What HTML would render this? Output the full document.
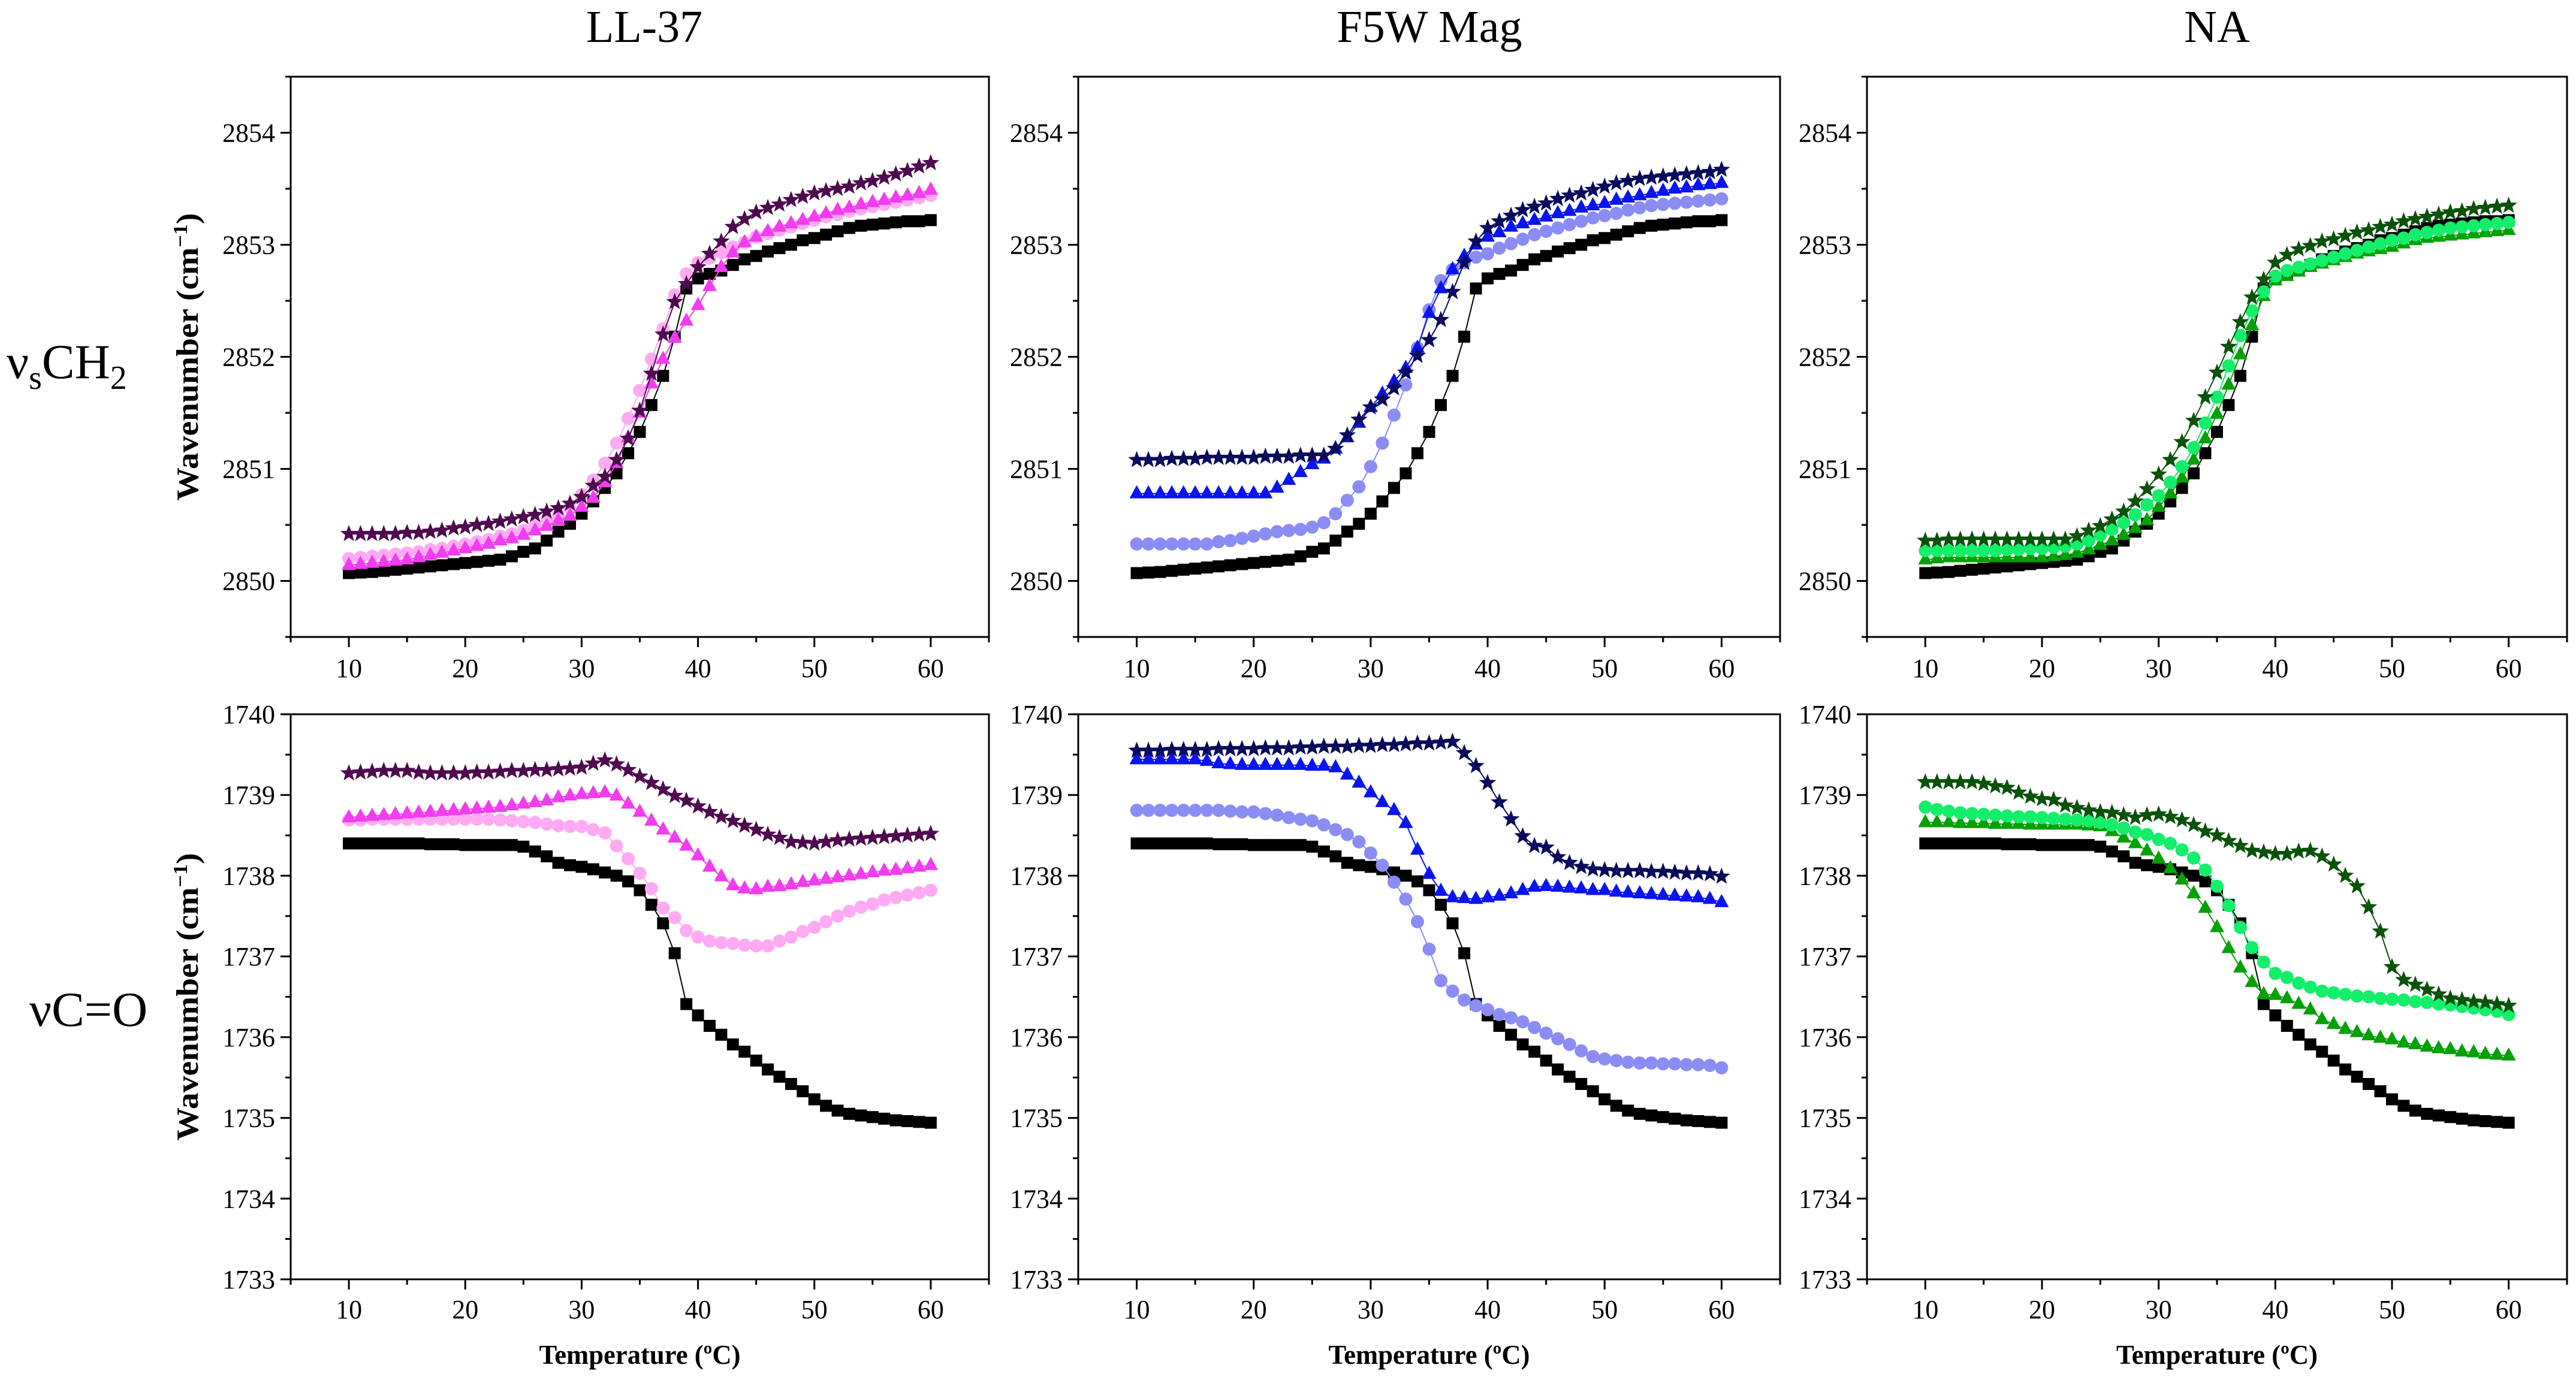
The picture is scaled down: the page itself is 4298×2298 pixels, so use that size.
<!DOCTYPE html>
<html><head><meta charset="utf-8"><style>
html,body{margin:0;padding:0;background:#fff}
svg{display:block}
text{font-family:"Liberation Serif",serif;fill:#000}
</style></head><body>
<svg id="fig" width="4298" height="2298" viewBox="0 0 4298 2298" xmlns="http://www.w3.org/2000/svg">
<rect width="4298" height="2298" fill="#fff"/>
<text x="1075" y="70" font-size="76" text-anchor="middle">LL-37</text>
<text x="2385" y="70" font-size="76" text-anchor="middle">F5W Mag</text>
<text x="3699" y="70" font-size="76" text-anchor="middle">NA</text>
<text x="11" y="631" font-size="82">ν<tspan font-size="56" dy="18">s</tspan><tspan dy="-18">CH</tspan><tspan font-size="56" dy="18">2</tspan></text>
<text x="49" y="1712" font-size="82">νC=O</text>
<g id="plots"></g>
</svg>
<script>
// x values: temperature 10..60 step 1
const temps = Array.from({length:51},(_,i)=>10+i);
const xTicks = [10,20,30,40,50,60];
const yTicksCH2 = [2850,2851,2852,2853,2854];
const yTicksCO = [1733,1734,1735,1736,1737,1738,1739,1740];
// top row: wavenumber - 2850
const ch2Black = [.07,.075,.08,.09,.10,.11,.12,.13,.14,.15, .16,.17,.18,.19,.22,.26,.29,.36,.44,.51, .60,.71,.83,.96,1.14,1.33,1.57,1.83,2.18,2.61, 2.70,2.74,2.77,2.82,2.87,2.90,2.94,2.97,3.00,3.04, 3.06,3.09,3.12,3.15,3.17,3.18,3.19,3.20,3.21,3.21, 3.22];
const ch2LLStar = [.42,.42,.42,.42,.42,.43,.43,.44,.45,.47, .48,.50,.51,.53,.55,.57,.59,.62,.65,.69, .75,.85,.93,1.08,1.27,1.52,1.85,2.20,2.49,2.65, 2.80,2.92,3.03,3.16,3.23,3.29,3.33,3.36,3.40,3.43, 3.46,3.48,3.50,3.52,3.55,3.57,3.60,3.63,3.66,3.70, 3.73];
const ch2LLTri = [.14,.15,.16,.17,.18,.19,.21,.23,.25,.27, .29,.31,.33,.36,.38,.41,.45,.49,.54,.58, .66,.74,.88,1.05,1.28,1.50,1.76,1.98,2.17,2.32, 2.46,2.63,2.80,2.93,3.02,3.07,3.12,3.16,3.19,3.22, 3.25,3.28,3.31,3.33,3.36,3.38,3.40,3.42,3.44,3.46, 3.49];
const ch2LLCirc = [.20,.21,.22,.23,.24,.25,.26,.28,.29,.31, .33,.35,.37,.40,.42,.45,.49,.53,.58,.65, .77,.90,1.05,1.23,1.45,1.70,1.98,2.25,2.55,2.74, 2.84,2.88,2.93,2.98,3.02,3.07,3.10,3.13,3.16,3.19, 3.22,3.25,3.27,3.30,3.32,3.34,3.36,3.38,3.40,3.42, 3.44];
const ch2F5Star = [1.08,1.08,1.08,1.09,1.09,1.09,1.10,1.10,1.10,1.10, 1.10,1.11,1.11,1.11,1.12,1.12,1.12,1.18,1.30,1.44, 1.55,1.62,1.72,1.86,2.01,2.15,2.33,2.58,2.84,3.03, 3.15,3.21,3.26,3.31,3.34,3.37,3.41,3.44,3.46,3.49, 3.52,3.55,3.57,3.59,3.60,3.61,3.62,3.63,3.64,3.65, 3.67];
const ch2F5Tri = [.78,.78,.78,.78,.78,.78,.78,.78,.78,.78, .78,.78,.83,.90,.97,1.04,1.09,1.18,1.28,1.41, 1.55,1.67,1.78,1.90,2.08,2.39,2.61,2.78,2.90,3.00, 3.07,3.11,3.16,3.19,3.22,3.25,3.28,3.30,3.33,3.35, 3.37,3.40,3.42,3.44,3.46,3.48,3.50,3.51,3.53,3.54, 3.55];
const ch2F5Circ = [.33,.33,.33,.33,.33,.33,.33,.35,.36,.38, .40,.42,.44,.45,.46,.48,.52,.60,.72,.84, 1.02,1.23,1.48,1.75,2.08,2.42,2.68,2.78,2.84,2.89, 2.92,2.97,3.01,3.05,3.09,3.12,3.15,3.18,3.21,3.24, 3.26,3.28,3.31,3.33,3.35,3.36,3.37,3.38,3.39,3.40, 3.41];
const ch2NAStar = [.36,.36,.37,.37,.37,.37,.37,.37,.37,.37, .37,.37,.37,.40,.45,.49,.55,.62,.71,.82, .95,1.08,1.24,1.43,1.64,1.86,2.09,2.31,2.53,2.69, 2.84,2.91,2.96,2.99,3.03,3.05,3.08,3.11,3.13,3.16, 3.18,3.21,3.23,3.25,3.27,3.29,3.30,3.32,3.33,3.34, 3.35];
const ch2NACirc = [.27,.27,.27,.27,.27,.27,.27,.28,.28,.29, .29,.30,.31,.33,.36,.41,.46,.52,.59,.68, .76,.88,1.02,1.19,1.41,1.64,1.92,2.19,2.41,2.58, 2.72,2.77,2.80,2.83,2.86,2.89,2.92,2.95,2.98,3.01, 3.04,3.06,3.09,3.11,3.13,3.15,3.16,3.17,3.18,3.19, 3.20];
const ch2NATri = [.19,.20,.21,.21,.21,.21,.21,.21,.21,.21, .21,.22,.23,.25,.28,.32,.36,.41,.47,.54, .66,.78,.92,1.08,1.27,1.49,1.75,2.02,2.28,2.54, 2.68,2.72,2.76,2.80,2.83,2.86,2.89,2.92,2.94,2.96, 2.98,3.01,3.04,3.06,3.07,3.08,3.09,3.10,3.11,3.12, 3.13];
// bottom row: wavenumber - 1730
const coBlack = [8.40,8.40,8.40,8.40,8.40,8.40,8.40,8.39,8.39,8.39, 8.38,8.38,8.38,8.38,8.38,8.36,8.30,8.24,8.16,8.13, 8.11,8.08,8.04,8.00,7.93,7.82,7.64,7.41,7.04,6.41, 6.27,6.14,6.03,5.91,5.82,5.71,5.60,5.51,5.42,5.33, 5.23,5.15,5.09,5.05,5.03,5.01,4.99,4.97,4.96,4.95, 4.94];
const coLLStar = [9.27,9.28,9.29,9.30,9.30,9.30,9.28,9.27,9.27,9.27, 9.27,9.28,9.28,9.29,9.30,9.30,9.31,9.31,9.32,9.33, 9.34,9.39,9.43,9.38,9.31,9.23,9.15,9.07,8.99,8.93, 8.86,8.79,8.73,8.68,8.62,8.57,8.51,8.47,8.42,8.41, 8.40,8.42,8.44,8.45,8.46,8.47,8.48,8.49,8.50,8.51, 8.52];
const coLLTri = [8.72,8.73,8.74,8.75,8.76,8.77,8.78,8.79,8.80,8.81, 8.82,8.83,8.84,8.85,8.87,8.89,8.91,8.93,8.97,8.99, 9.01,9.02,9.03,8.99,8.89,8.79,8.68,8.57,8.47,8.37, 8.25,8.11,7.99,7.88,7.84,7.83,7.86,7.87,7.89,7.92, 7.94,7.96,7.98,8.00,8.02,8.04,8.06,8.07,8.09,8.11, 8.13];
const coLLCirc = [8.69,8.69,8.70,8.70,8.70,8.70,8.70,8.70,8.70,8.70, 8.70,8.70,8.70,8.69,8.68,8.67,8.66,8.64,8.62,8.61, 8.61,8.57,8.53,8.37,8.21,8.03,7.84,7.60,7.48,7.32, 7.24,7.19,7.17,7.16,7.14,7.13,7.13,7.19,7.24,7.31, 7.36,7.43,7.50,7.56,7.61,7.65,7.70,7.73,7.76,7.79, 7.82];
const coF5Star = [9.55,9.55,9.55,9.56,9.56,9.56,9.56,9.57,9.57,9.57, 9.57,9.58,9.58,9.58,9.59,9.59,9.60,9.60,9.60,9.61, 9.61,9.62,9.62,9.63,9.64,9.64,9.65,9.66,9.52,9.36, 9.15,8.91,8.70,8.49,8.37,8.35,8.23,8.16,8.11,8.08, 8.07,8.06,8.06,8.06,8.05,8.05,8.04,8.03,8.03,8.02, 7.99];
const coF5Tri = [9.44,9.44,9.44,9.44,9.44,9.44,9.42,9.39,9.38,9.37, 9.37,9.37,9.37,9.37,9.37,9.36,9.36,9.34,9.25,9.15, 9.03,8.91,8.81,8.65,8.32,8.02,7.81,7.73,7.72,7.71, 7.73,7.75,7.78,7.82,7.86,7.87,7.86,7.85,7.84,7.82, 7.82,7.80,7.79,7.78,7.77,7.76,7.75,7.74,7.73,7.71, 7.67];
const coF5Circ = [8.81,8.81,8.81,8.81,8.81,8.81,8.81,8.81,8.80,8.79, 8.79,8.77,8.75,8.72,8.70,8.68,8.63,8.57,8.51,8.42, 8.28,8.13,7.92,7.71,7.43,7.09,6.70,6.57,6.46,6.39, 6.34,6.28,6.24,6.19,6.12,6.05,5.98,5.91,5.83,5.76, 5.73,5.71,5.69,5.68,5.68,5.67,5.67,5.66,5.66,5.65, 5.62];
const coNAStar = [9.16,9.16,9.16,9.16,9.16,9.14,9.11,9.09,9.03,8.98, 8.95,8.94,8.87,8.84,8.81,8.79,8.78,8.75,8.72,8.75, 8.76,8.73,8.69,8.63,8.55,8.50,8.43,8.37,8.31,8.29, 8.27,8.27,8.30,8.31,8.24,8.14,8.00,7.87,7.61,7.31, 6.87,6.71,6.65,6.59,6.53,6.48,6.46,6.44,6.43,6.41, 6.39];
const coNACirc = [8.85,8.82,8.80,8.78,8.77,8.76,8.75,8.74,8.73,8.73, 8.72,8.71,8.70,8.69,8.68,8.66,8.63,8.59,8.54,8.51, 8.45,8.40,8.32,8.22,8.07,7.87,7.63,7.36,7.11,6.93, 6.79,6.74,6.67,6.62,6.57,6.55,6.53,6.51,6.50,6.48, 6.47,6.46,6.44,6.43,6.41,6.40,6.38,6.36,6.34,6.32, 6.28];
const coNATri = [8.66,8.66,8.66,8.65,8.65,8.65,8.64,8.64,8.64,8.63, 8.63,8.63,8.63,8.63,8.62,8.61,8.55,8.47,8.40,8.31, 8.21,8.09,7.95,7.78,7.60,7.36,7.10,6.86,6.68,6.53, 6.52,6.48,6.41,6.34,6.22,6.16,6.10,6.06,6.02,5.99, 5.97,5.93,5.91,5.88,5.86,5.85,5.82,5.81,5.79,5.78, 5.77];
const ch2Base = 2850;
const coBase = 1730;

const NS='http://www.w3.org/2000/svg';
const root=document.getElementById('plots');
function mk(tag,attrs,parent){const e=document.createElementNS(NS,tag);for(const k in attrs)e.setAttribute(k,attrs[k]);(parent||root).appendChild(e);return e;}

const cols=[{x0:485,x1:1650,key:'ll37',cx:1067},{x0:1799,x1:2970,key:'f5w',cx:2385},{x0:3115,x1:4283,key:'na',cx:3699}];
const rows=[{y0:128,y1:1063,lo:2849.5,hi:2854.5,ticks:yTicksCH2,base:ch2Base,key:'ch2',labelY:1130},
            {y0:1192,y1:2135,lo:1733,hi:1740,ticks:yTicksCO,base:coBase,key:'co',labelY:2200}];
const series={
 ch2:[[ [ch2Black,'sq','#000'],[ch2LLCirc,'ci','#ffaaf2'],[ch2LLTri,'tr','#f23cf0'],[ch2LLStar,'st','#4f0a4f'] ],
      [ [ch2Black,'sq','#000'],[ch2F5Circ,'ci','#8c8cf5'],[ch2F5Tri,'tr','#0a14f0'],[ch2F5Star,'st','#0a0a5c'] ],
      [ [ch2Black,'sq','#000'],[ch2NATri,'tr','#05a005'],[ch2NACirc,'ci','#14ee6a'],[ch2NAStar,'st','#0a520a'] ]],
 co:[[ [coBlack,'sq','#000'],[coLLCirc,'ci','#ffaaf2'],[coLLTri,'tr','#f23cf0'],[coLLStar,'st','#4f0a4f'] ],
     [ [coBlack,'sq','#000'],[coF5Circ,'ci','#8c8cf5'],[coF5Tri,'tr','#0a14f0'],[coF5Star,'st','#0a0a5c'] ],
     [ [coBlack,'sq','#000'],[coNATri,'tr','#05a005'],[coNACirc,'ci','#14ee6a'],[coNAStar,'st','#0a520a'] ]]
};
function starPts(cx,cy,R){const r=R*0.42;let p=[];for(let i=0;i<10;i++){const a=-Math.PI/2+i*Math.PI/5;const rr=i%2?r:R;p.push((cx+rr*Math.cos(a)).toFixed(1)+','+(cy+rr*Math.sin(a)).toFixed(1));}return p.join(' ');}

rows.forEach((R,ri)=>{
 cols.forEach((C,ci)=>{
  const g=mk('g',{});
  
  
  const X=v=>C.x0+(v-5)/60*(C.x1-C.x0);
  const Y=v=>R.y1-(v-R.lo)/(R.hi-R.lo)*(R.y1-R.y0);
  // ticks
  const tg=mk('g',{stroke:'#000','stroke-width':3},g);
  
  
  for(let v=R.lo;v<=R.hi+1e-6;v+=0.5){const y=Y(v);const major=Math.abs(v-Math.round(v))<1e-6 && R.ticks.includes(Math.round(v));mk('line',{x1:C.x0,x2:C.x0-(major?17:9),y1:y,y2:y},tg);}
  for(let v=5;v<=65;v+=5){const x=X(v);const major=xTicks.includes(v);mk('line',{x1:x,x2:x,y1:R.y1,y2:R.y1+(major?17:9)},tg);}
  R.ticks.forEach(t=>{const tx=mk('text',{x:C.x0-26,y:Y(t)+15,'font-size':44,'text-anchor':'end'},g);tx.textContent=t;
   
   });
  xTicks.forEach(t=>{const tx=mk('text',{x:X(t),y:R.labelY,'font-size':44,'text-anchor':'middle'},g);tx.textContent=t;
   
   });
  // series
  series[R.key][ci].forEach((s,si)=>{
   const [vals,shape,col]=s;
   const sg=mk('g',{fill:col},g);
   
   
   const pts=vals.map((v,i)=>X(temps[i]).toFixed(1)+','+Y(R.base+v).toFixed(1)).join(' ');
   mk('polyline',{points:pts,fill:'none',stroke:col,'stroke-width':2},sg);
   vals.forEach((v,i)=>{const x=X(temps[i]),y=Y(R.base+v);let m;
    if(shape==='sq')m=mk('rect',{x:x-10,y:y-10,width:20,height:20},sg);
    else if(shape==='ci')m=mk('circle',{cx:x,cy:y,r:11},sg);
    else if(shape==='tr')m=mk('polygon',{points:`${x},${y-14} ${x+12},${y+8} ${x-12},${y+8}`},sg);
    else m=mk('polygon',{points:starPts(x,y,15)},sg);
    
    
   });
  });
  const fr=mk('rect',{x:C.x0,y:R.y0,width:C.x1-C.x0,height:R.y1-R.y0,fill:'none',stroke:'#000','stroke-width':3},g);
  
  
  if(ci===0){
   const cy=(R.y0+R.y1)/2;
   const yt=mk('text',{x:0,y:0,'font-size':52,'font-weight':'bold','text-anchor':'middle',transform:`translate(330,${cy}) rotate(-90)`,textLength:480,lengthAdjust:'spacingAndGlyphs'},g);
   yt.innerHTML='Wavenumber (cm<tspan font-size="34" dy="-18">−1</tspan><tspan dy="18">)</tspan>';
   
   
  }
  if(ri===1){
   const xt=mk('text',{x:(C.x0+C.x1)/2,y:2276,'font-size':46,'font-weight':'bold','text-anchor':'middle',textLength:336,lengthAdjust:'spacingAndGlyphs'},g);
   xt.textContent='Temperature (ºC)';
   
   
  }
 });
});
</script>
</body></html>
